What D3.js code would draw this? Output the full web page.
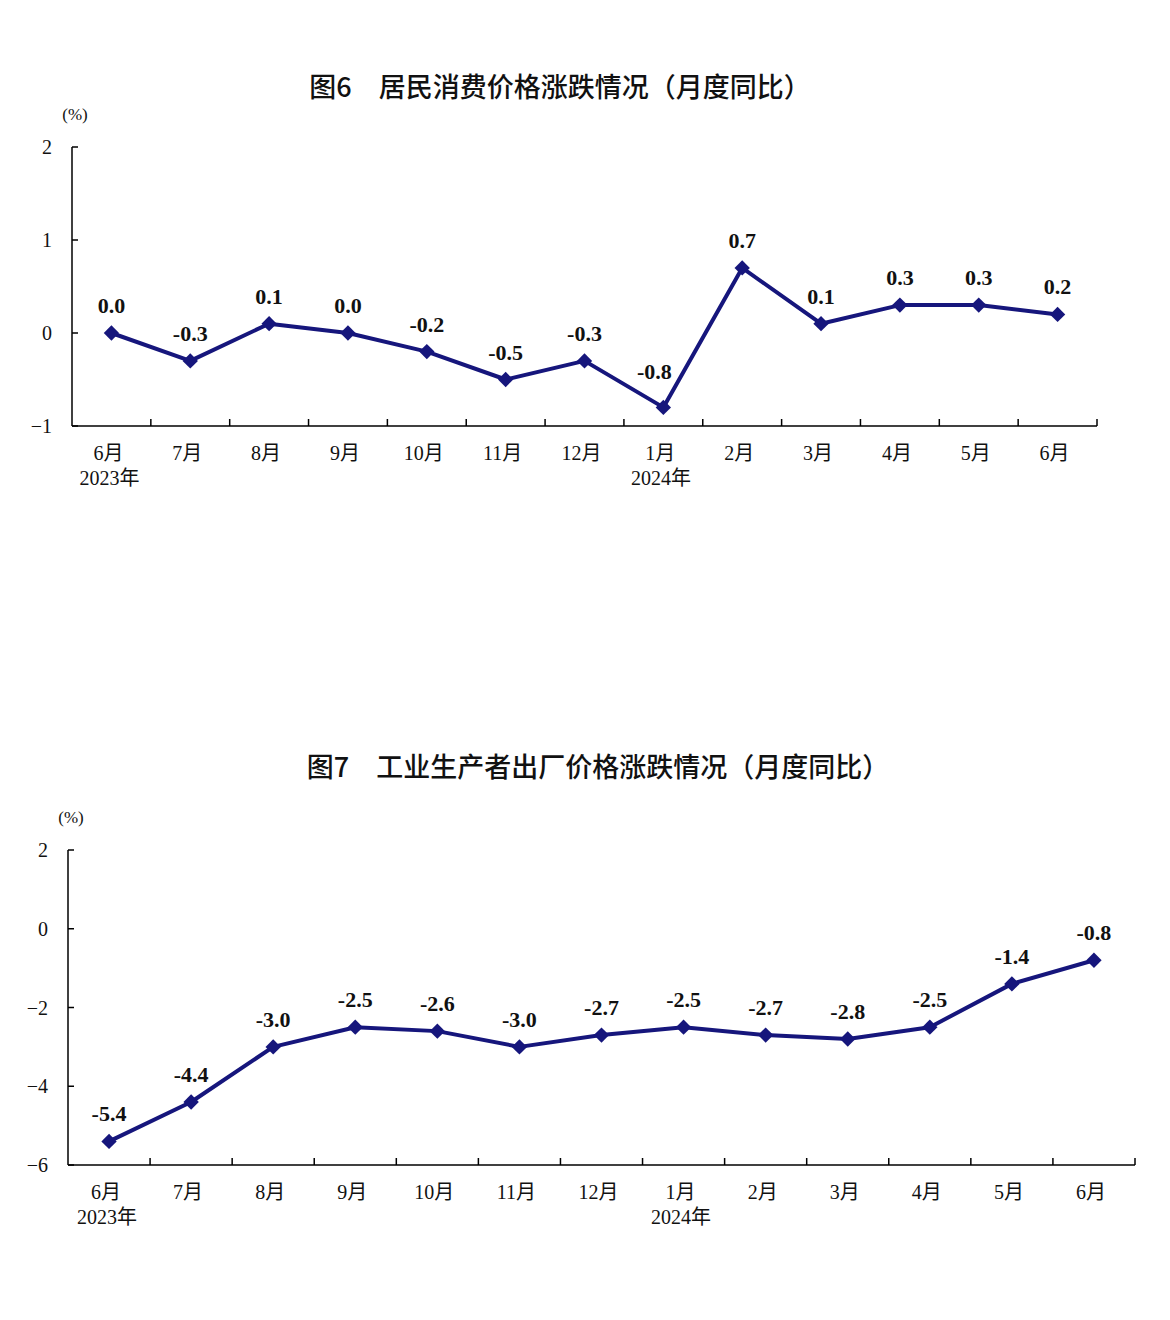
<!DOCTYPE html>
<html><head><meta charset="utf-8">
<script src="https://cdn.jsdelivr.net/npm/d3@7"></script>
<style>
body{margin:0;background:#fff}
text{font-family:"Liberation Serif","Noto Sans CJK SC",serif;fill:#111}
.title{font-family:"Noto Sans CJK SC",sans-serif;font-size:27px;font-weight:500}
</style></head><body>
<svg id="c" width="1170" height="1320"></svg>
<script>
const months = ["6月","7月","8月","9月","10月","11月","12月","1月","2月","3月","4月","5月","6月"];
const cpiValues = [0.0,-0.3,0.1,0.0,-0.2,-0.5,-0.3,-0.8,0.7,0.1,0.3,0.3,0.2];
const ppiValues = [-5.4,-4.4,-3.0,-2.5,-2.6,-3.0,-2.7,-2.5,-2.7,-2.8,-2.5,-1.4,-0.8];
const cpiTicks = [2,1,0,-1];
const ppiTicks = [2,0,-2,-4,-6];
const color = "#16167c";

const svg = d3.select("#c");

function drawChart(o) {
  const g = svg.append("g");
  g.append("text").attr("class","title").attr("x",o.titleX).attr("y",o.titleY)
    .attr("text-anchor","middle").text(o.title);
  g.append("text").attr("x",o.left+3).attr("y",o.top-27).attr("font-size",17)
    .attr("text-anchor","middle").text("(%)");

  const x = d3.scaleBand().domain(d3.range(months.length)).range([o.left,o.right]);
  const y = d3.scaleLinear().domain(o.domain).range([o.bottom,o.top]);

  g.append("line").attr("x1",o.left).attr("x2",o.left).attr("y1",o.top).attr("y2",o.bottom)
    .attr("stroke","#000").attr("stroke-width",1.5);
  o.ticks.forEach(t => {
    g.append("line").attr("x1",o.left).attr("x2",o.left+6).attr("y1",y(t)).attr("y2",y(t))
      .attr("stroke","#000").attr("stroke-width",1.5);
    g.append("text").attr("x",o.left-20).attr("y",y(t)+7).attr("font-size",20)
      .attr("text-anchor","end").text(String(t).replace("-","−"));
  });
  g.append("line").attr("x1",o.left).attr("x2",o.right).attr("y1",o.bottom).attr("y2",o.bottom)
    .attr("stroke","#000").attr("stroke-width",1.5);
  d3.range(1,months.length+1).forEach(i => {
    const xx = i < months.length ? x(i) : o.right;
    g.append("line").attr("x1",xx).attr("x2",xx).attr("y1",o.bottom).attr("y2",o.bottom-7)
      .attr("stroke","#000").attr("stroke-width",1.5);
  });
  months.forEach((m,i) => {
    g.append("text").attr("x",x(i)+x.bandwidth()/2-3).attr("y",o.bottom+34)
      .attr("font-size",20).attr("text-anchor","middle").text(m);
  });
  g.append("text").attr("x",x(0)+x.bandwidth()/2-2).attr("y",o.bottom+59)
    .attr("font-size",20).attr("text-anchor","middle").text("2023年");
  g.append("text").attr("x",o.yearX).attr("y",o.bottom+59)
    .attr("font-size",20).attr("text-anchor","middle").text("2024年");

  const cx = i => x(i)+x.bandwidth()/2;
  g.append("path").datum(o.values)
    .attr("d",d3.line().x((d,i)=>cx(i)).y(d=>y(d)))
    .attr("fill","none").attr("stroke",color).attr("stroke-width",4).attr("stroke-linejoin","round");
  g.selectAll(".m").data(o.values).join("path")
    .attr("d",d3.symbol(d3.symbolDiamond2 || d3.symbolDiamond,150))
    .attr("transform",(d,i)=>`translate(${cx(i)},${y(d)})`)
    .attr("fill",color);
  g.selectAll(".l").data(o.values).join("text")
    .attr("x",(d,i)=>cx(i)+(i===o.shiftIdx ? -9 : 0))
    .attr("y",(d,i)=>y(d)-(i===o.shiftIdx ? 28 : 20))
    .attr("text-anchor","middle").attr("font-size",22).attr("font-weight","bold")
    .text(d=>d.toFixed(1));
}

drawChart({title:"图6　居民消费价格涨跌情况（月度同比）",titleX:560,titleY:97,
  left:72,right:1097,top:147,bottom:426,domain:[-1,2],ticks:cpiTicks,values:cpiValues,yearX:661,shiftIdx:7});
drawChart({title:"图7　工业生产者出厂价格涨跌情况（月度同比）",titleX:598,titleY:777,
  left:68,right:1135,top:850,bottom:1165,domain:[-6,2],ticks:ppiTicks,values:ppiValues,yearX:681,shiftIdx:-1});
</script></body></html>
